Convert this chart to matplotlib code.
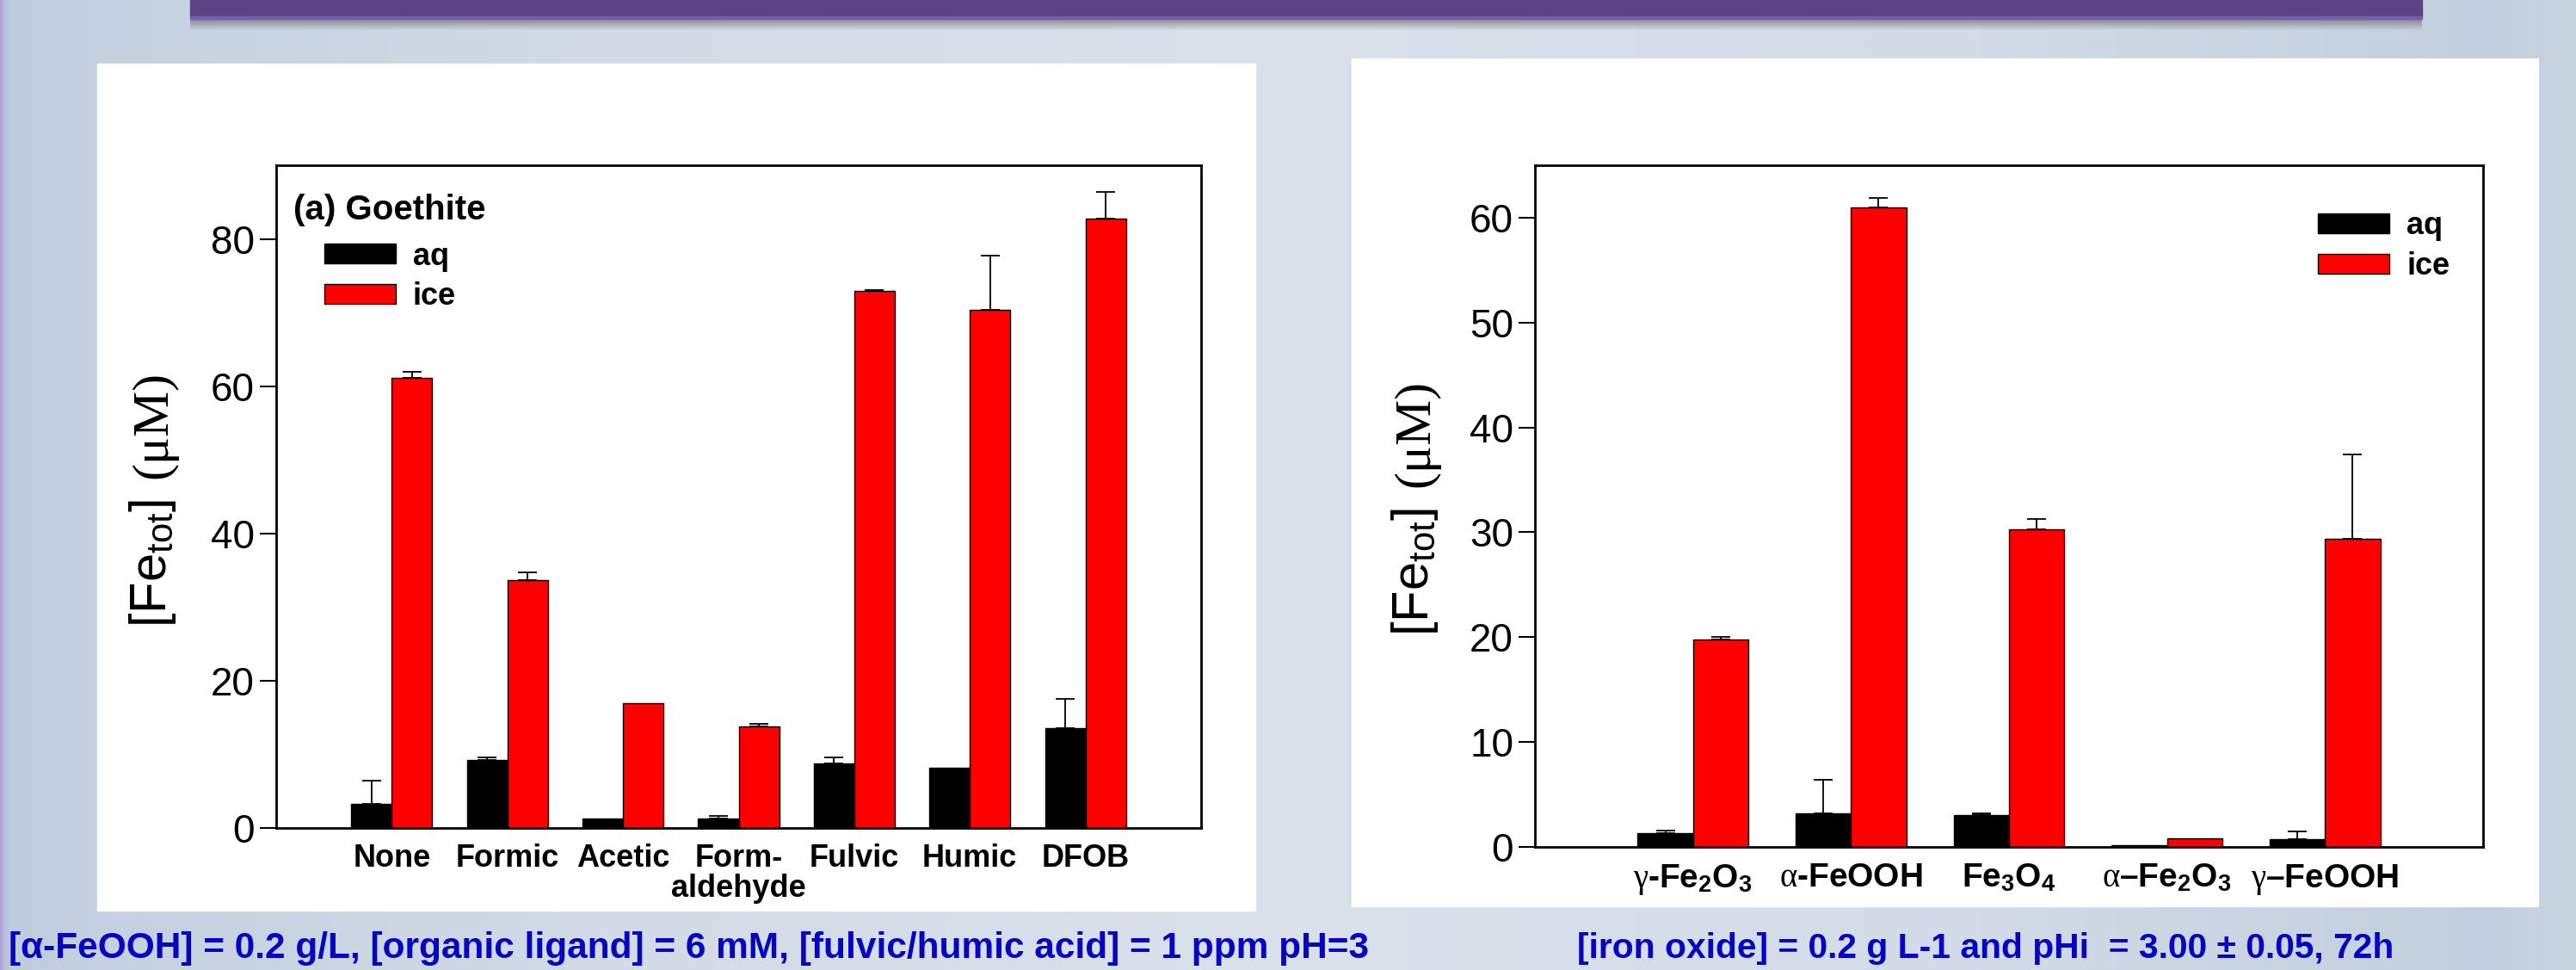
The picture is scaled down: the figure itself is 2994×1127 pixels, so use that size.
import numpy as np
import matplotlib
matplotlib.use('Agg')
import matplotlib.pyplot as plt
from matplotlib.patches import Rectangle
from matplotlib.colors import to_rgb

# ---- data ----
goethite_labels = ['None', 'Formic', 'Acetic', 'Form-\naldehyde', 'Fulvic', 'Humic', 'DFOB']
goethite_aq = [3.3, 9.2, 1.3, 1.3, 8.8, 8.2, 13.6]
goethite_aq_err = [3.1, 0.4, 0.0, 0.3, 0.8, 0.0, 3.9]
goethite_ice = [61.1, 33.7, 17.0, 13.8, 72.9, 70.4, 82.8]
goethite_ice_err = [0.9, 1.0, 0.0, 0.4, 0.2, 7.3, 3.6]
goethite_yticks = [0, 20, 40, 60, 80]

oxide_labels = [r'$\mathrm{\gamma}$-Fe$_\mathbf{2}$O$_\mathbf{3}$',
                r'$\mathrm{\alpha}$-FeOOH',
                r'Fe$_\mathbf{3}$O$_\mathbf{4}$',
                r'$\mathrm{\alpha}$–Fe$_\mathbf{2}$O$_\mathbf{3}$',
                r'$\mathrm{\gamma}$–FeOOH']
oxide_aq = [1.35, 3.2, 3.0, 0.2, 0.7]
oxide_aq_err = [0.25, 3.2, 0.2, 0.0, 0.8]
oxide_ice = [19.8, 61.0, 30.3, 0.8, 29.4]
oxide_ice_err = [0.2, 0.9, 1.0, 0.0, 8.0]
oxide_yticks = [0, 10, 20, 30, 40, 50, 60]

caption_left = '[α-FeOOH] = 0.2 g/L, [organic ligand] = 6 mM, [fulvic/humic acid] = 1 ppm pH=3'
caption_right = '[iron oxide] = 0.2 g L-1 and pHi  = 3.00 ± 0.05, 72h'

plt.rcParams['font.family'] = ['Liberation Sans', 'DejaVu Sans']
plt.rcParams['mathtext.fontset'] = 'custom'
plt.rcParams['mathtext.rm'] = 'Liberation Serif'
plt.rcParams['mathtext.it'] = 'Liberation Serif:italic'
plt.rcParams['mathtext.bf'] = 'Liberation Sans:bold'
plt.rcParams['mathtext.sf'] = 'Liberation Sans'

W, H = 2994, 1127
fig = plt.figure(figsize=(W / 100, H / 100), dpi=100)


def fx(px):
    return px / W


def fy(py):
    return 1 - py / H


# ---- slide background ----
bg = fig.add_axes([0, 0, 1, 1], zorder=-10)
stops_x = [0, 5, 12, 120, 700, 1500, 2300, 2900, 2994]
stop_c = ['#ad9fd6', '#b6c2da', '#bfccdd', '#c5d1e0', '#d2dbe7', '#dae1eb', '#d2dbe7', '#c3cfde', '#c9d4e1']
cols = np.arange(W)
rgb = np.array([to_rgb(c) for c in stop_c])
grad = np.stack([np.interp(cols, stops_x, rgb[:, k]) for k in range(3)], axis=-1)
bg.imshow(grad[None, :, :], aspect='auto', extent=[0, W, H, 0])
# banner + its shadow
shadow = np.zeros((14, 1, 4))
shadow[:, 0, :3] = 0.35
shadow[:, 0, 3] = np.linspace(0.6, 0.0, 14)
bg.imshow(shadow, aspect='auto', extent=[221, 2815, 36, 22])
bg.add_patch(Rectangle((221, 0), 2594, 19, color='#5e4384'))
bg.add_patch(Rectangle((221, 19), 2594, 3, color='#7a5ba6'))
# white panels
bg.add_patch(Rectangle((113, 74), 1346, 984, color='white'))
bg.add_patch(Rectangle((1571, 68), 1379, 985, color='white'))
bg.set_xlim(0, W)
bg.set_ylim(H, 0)
bg.axis('off')


def draw_panel(ax, labels, aq, aq_err, ice, ice_err, ymax, yticks, label_size):
    x = np.arange(len(labels))
    w = 0.35
    ax.bar(x - w / 2, aq, w, color='black', edgecolor='black', lw=1, label='aq', zorder=2)
    ax.bar(x + w / 2, ice, w, color='#ff0000', edgecolor='black', lw=1, label='ice', zorder=2)
    for xs, vals, errs in [(x - w / 2, aq, aq_err), (x + w / 2, ice, ice_err)]:
        vals = np.array(vals)
        errs = np.array(errs)
        keep = errs > 0
        ax.errorbar(xs[keep], vals[keep], yerr=[np.zeros(keep.sum()), errs[keep]],
                    fmt='none', ecolor='black', elinewidth=1.3, capsize=8,
                    capthick=1.3, zorder=3)
    ax.set_xlim(-1, len(labels))
    ax.set_ylim(0, ymax)
    ax.set_yticks(yticks)
    ax.set_xticks(x)
    ax.set_xticklabels(labels, fontsize=label_size, fontweight='bold', linespacing=1.0)
    ax.tick_params(axis='y', direction='out', length=14, width=1.5, labelsize=33, pad=4)
    ax.tick_params(axis='x', length=0, pad=13)
    for s in ax.spines.values():
        s.set_linewidth(2)


ax1 = fig.add_axes([fx(321), fy(962), fx(1075), 770 / H])
draw_panel(ax1, goethite_labels, goethite_aq, goethite_aq_err,
           goethite_ice, goethite_ice_err, 90, goethite_yticks, 26)
ax1.legend(loc='upper left', bbox_to_anchor=(0.052, 0.885), frameon=False,
           prop={'weight': 'bold', 'size': 26}, handlelength=2.3, handleheight=0.6,
           handletextpad=0.55, labelspacing=0.32, borderpad=0, borderaxespad=0)
ax1.text(0.019, 0.933, '(a) Goethite', transform=ax1.transAxes, fontsize=29,
         fontweight='bold', va='center', ha='left')

ax2 = fig.add_axes([fx(1784), fy(984), fx(1102), 792 / H])
draw_panel(ax2, oxide_labels, oxide_aq, oxide_aq_err,
           oxide_ice, oxide_ice_err, 65, oxide_yticks, 28)
ax2.legend(loc='upper left', bbox_to_anchor=(0.826, 0.933), frameon=False,
           prop={'weight': 'bold', 'size': 26}, handlelength=2.3, handleheight=0.6,
           handletextpad=0.55, labelspacing=0.33, borderpad=0, borderaxespad=0)

# y labels: sans "[Fe_tot]" followed by serif "(μM)"
for base_x, split_y in [(193, 568), (1660, 578)]:
    fig.text(fx(base_x), fy(split_y + 12), r'[Fe$_{\mathsf{tot}}$]', fontsize=43,
             rotation=90, rotation_mode='anchor', ha='right', va='baseline')
    fig.text(fx(base_x), fy(split_y - 12), '(μM)', fontsize=43, family='Liberation Serif',
             rotation=90, rotation_mode='anchor', ha='left', va='baseline')

# captions
fig.text(fx(10), fy(1113), caption_left, fontsize=30.5, fontweight='bold',
         color='#0505c2', ha='left', va='baseline')
fig.text(fx(1833), fy(1113), caption_right, fontsize=29.3, fontweight='bold',
         color='#0505c2', ha='left', va='baseline')

fig.savefig('out.png', dpi=100)
